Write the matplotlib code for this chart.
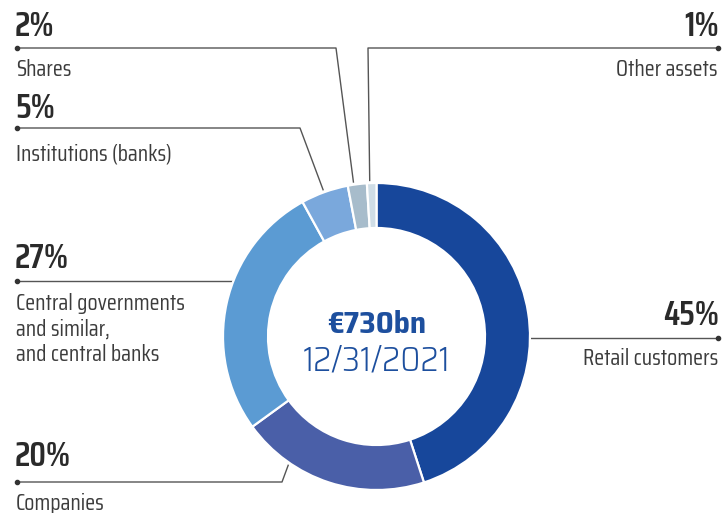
import numpy as np
import matplotlib as mpl
mpl.use('Agg')
import matplotlib.pyplot as plt

# Daten (Anteile in %)
kategorien = ["Retail customers", "Companies",
              "Central governments\nand similar,\nand central banks",
              "Institutions (banks)", "Shares", "Other assets"]
anteile = [45, 20, 27, 5, 2, 1]
farben = ["#17479b", "#4a5fa8", "#5b9bd3", "#7aa8dc", "#a7bccb", "#cfdde6"]
gesamt = "€730bn"
datum = "12/31/2021"

W, H = 723, 513
cx, cy, R, breite = 376.5, 336.5, 153.5, 45

def y_(y):
    return H - y

fig = plt.figure(figsize=(W / 100, H / 100), dpi=100)
ax = fig.add_axes([0, 0, 1, 1])

ax.pie(anteile, colors=farben, startangle=90, counterclock=False,
       center=(cx, y_(cy)), radius=R, frame=True,
       wedgeprops=dict(width=breite, edgecolor='white', linewidth=1.6))
ax.set_xlim(0, W)
ax.set_ylim(0, H)
ax.set_aspect('equal')
ax.axis('off')

ax.text(cx, y_(333), gesamt, ha='center', va='baseline', fontsize=22.5,
        fontweight=700, color='#1d4f9e', family=['Saira SemiCondensed', 'DejaVu Sans'])
ax.text(cx, y_(371), datum, ha='center', va='baseline', fontsize=25,
        fontweight=300, color='#1d4f9e', family=['Saira SemiCondensed', 'DejaVu Sans'])

# Beschriftungen: (Seite, Linien-y, Knick-x, Winkel am Ring, Prozent-Baseline, erste Text-Baseline)
layout = [
    ('r', 338, None, None, 325, 365),
    ('l', 482, 282, 235.5, 466, 510),
    ('l', 281, None, None, 268, 310),
    ('l', 128, 300, 110, 118, 160),
    ('l', 48, 336, 98.5, 36, 76),
    ('r', 48, 368, 92.5, 36, 76),
]

for kat, wert, (seite, ly, kx, winkel, py, ty) in zip(kategorien, anteile, layout):
    x0 = 17 if seite == 'l' else 718
    if kx is None:
        dx = np.sqrt(R ** 2 - (cy - ly) ** 2)
        ex = cx - dx if seite == 'l' else cx + dx
        xs, ys = [x0, ex], [ly, ly]
    else:
        rad = np.deg2rad(winkel)
        ex = cx + (R + 2) * np.cos(rad)
        ey = cy - (R + 2) * np.sin(rad)
        xs, ys = [x0, kx, ex], [ly, ly, ey]
    ax.plot(xs, [y_(v) for v in ys], color='#555555', lw=1.0,
            solid_capstyle='butt', zorder=0)
    ax.plot([x0], [y_(ly)], 'o', color='#333333', ms=3)
    ha = 'left' if seite == 'l' else 'right'
    tx = 15 if seite == 'l' else 719
    ax.text(tx, y_(py), f"{wert}%", ha=ha, va='baseline', fontsize=25,
            fontweight=600, color='#2a2a2a', family=['Saira Condensed', 'DejaVu Sans'])
    for i, zeile in enumerate(kat.split("\n")):
        ax.text(tx + (1 if seite == 'l' else -1), y_(ty + i * 25.5), zeile, ha=ha,
                va='baseline', fontsize=16.5, color='#3c3c3c',
                family=['Saira Condensed', 'DejaVu Sans'])

fig.savefig('out.png', dpi=100)
